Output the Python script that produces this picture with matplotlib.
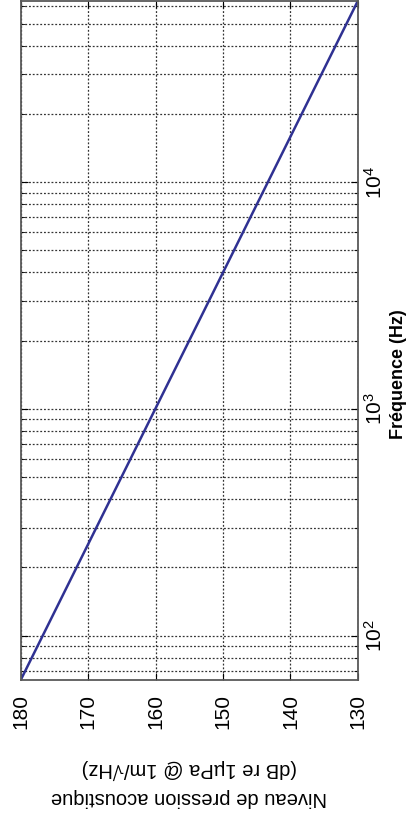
import matplotlib.pyplot as plt
from matplotlib.ticker import LogLocator, NullFormatter, LogFormatterSciNotation

# --- data: sound level vs frequency (straight line on log-frequency) ---
freq_hz = [64, 63000]
level_db = [180, 130]
level_ticks = [180, 170, 160, 150, 140, 130]

plt.rcParams['font.family'] = ['Liberation Sans', 'DejaVu Sans']
plt.rcParams['mathtext.fontset'] = 'custom'
plt.rcParams['mathtext.rm'] = 'Liberation Sans'

fig = plt.figure(figsize=(4.09, 8.34), dpi=100)
ax = fig.add_axes([0.051, 0.185, 0.824, 0.814])

# the page is turned a quarter turn: level runs along x, frequency along y
ax.plot(level_db, freq_hz, color='#2f3192', lw=1.8)

ax.set_yscale('log')
ax.set_xlim(level_db[0], level_db[-1])
ax.set_ylim(freq_hz[0], freq_hz[-1])

ax.set_xticks(level_ticks)
ax.set_xticklabels([str(v) for v in level_ticks], rotation=90, fontsize=15)
ax.yaxis.set_major_locator(LogLocator(base=10))
ax.yaxis.set_minor_locator(LogLocator(base=10, subs=range(2, 10)))
ax.yaxis.set_major_formatter(LogFormatterSciNotation())
ax.yaxis.set_minor_formatter(NullFormatter())
ax.yaxis.tick_right()
ax.yaxis.set_label_position('right')
for lab in ax.get_yticklabels():
    lab.set_rotation(90)
    lab.set_fontsize(15)
    lab.set_va('center')

ax.tick_params(which='both', direction='in', top=True, bottom=True, left=True, right=True)
ax.tick_params(which='major', length=5, width=0.8)
ax.tick_params(which='minor', length=3, width=0.6)
ax.tick_params(axis='x', pad=10)
ax.tick_params(axis='y', pad=4)

ax.grid(True, which='both', linestyle=(0, (1.5, 1.5)), color='0.2', linewidth=0.9)

ax.set_ylabel('Fréquence (Hz)', rotation=90, fontsize=13, fontweight='bold')
ax.yaxis.set_label_coords(1.095, 0.45)
ax.set_xlabel('Niveau de pression acoustique\n(dB re 1µPa @ 1m/√Hz)', rotation=180,
              fontsize=14.5, labelpad=22, linespacing=1.55)

for s in ax.spines.values():
    s.set_color('0.35')
    s.set_linewidth(1.3)

fig.savefig('out.png', dpi=100)
